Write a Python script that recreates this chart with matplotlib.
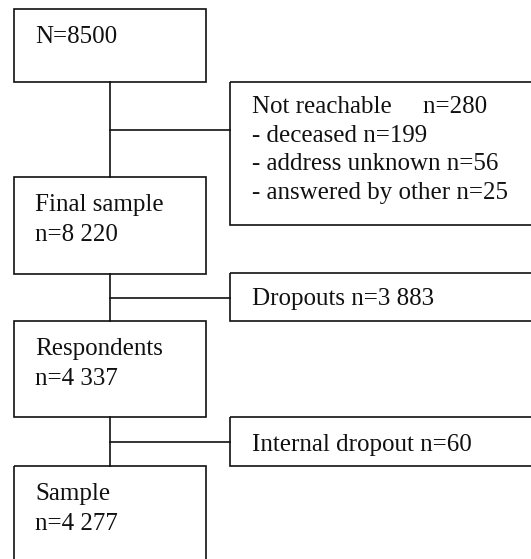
import matplotlib
matplotlib.use("Agg")
import matplotlib.pyplot as plt
from matplotlib.patches import Rectangle

# ---- data ----
main_labels = ["N=8500", "Final sample\nn=8 220", "Respondents\nn=4 337", "Sample\nn=4 277"]
side_labels = [
    "Not reachable     n=280\n- deceased n=199\n- address unknown n=56\n- answered by other n=25",
    "Dropouts n=3 883",
    "Internal dropout n=60",
]

# ---- layout (pixel coordinates, y downward) ----
W, H = 531, 559
fig = plt.figure(figsize=(W / 100, H / 100), dpi=100)
ax = fig.add_axes([0, 0, 1, 1])
ax.set_xlim(0, W)
ax.set_ylim(H, 0)
ax.axis("off")

font = dict(family=["Liberation Serif", "DejaVu Serif"], fontsize=18, color="#111111")
lw = 1.2
ec = "#111111"

left_x0, left_x1 = 14, 206
cx = (left_x0 + left_x1) / 2
main_boxes = [(9, 82), (177, 274), (321, 417), (466, 600)]
side_x0, side_x1 = 230, 560
side_boxes = [(82, 225), (273, 321), (417, 466)]
side_first_baseline = [113, 305, 451]
line_step = 30
side_step = 28.5

for (y0, y1), label in zip(main_boxes, main_labels):
    ax.add_patch(Rectangle((left_x0, y0), left_x1 - left_x0, y1 - y0,
                           fill=False, ec=ec, lw=lw))
    for i, line in enumerate(label.split("\n")):
        ax.text(35, y0 + 34 + i * line_step, line, va="baseline", ha="left", **font)

for (y0, y1), label, bl in zip(side_boxes, side_labels, side_first_baseline):
    ax.add_patch(Rectangle((side_x0, y0), side_x1 - side_x0, y1 - y0,
                           fill=False, ec=ec, lw=lw))
    for i, line in enumerate(label.split("\n")):
        ax.text(251.5, bl + i * side_step, line, va="baseline", ha="left", **font)

# connectors
for k in range(3):
    ya = main_boxes[k][1]
    yb = main_boxes[k + 1][0]
    ax.plot([cx, cx], [ya, yb], color=ec, lw=lw)
    ym = (ya + yb) / 2
    ax.plot([cx, side_x0], [ym, ym], color=ec, lw=lw)

fig.savefig("out.png", dpi=100)
